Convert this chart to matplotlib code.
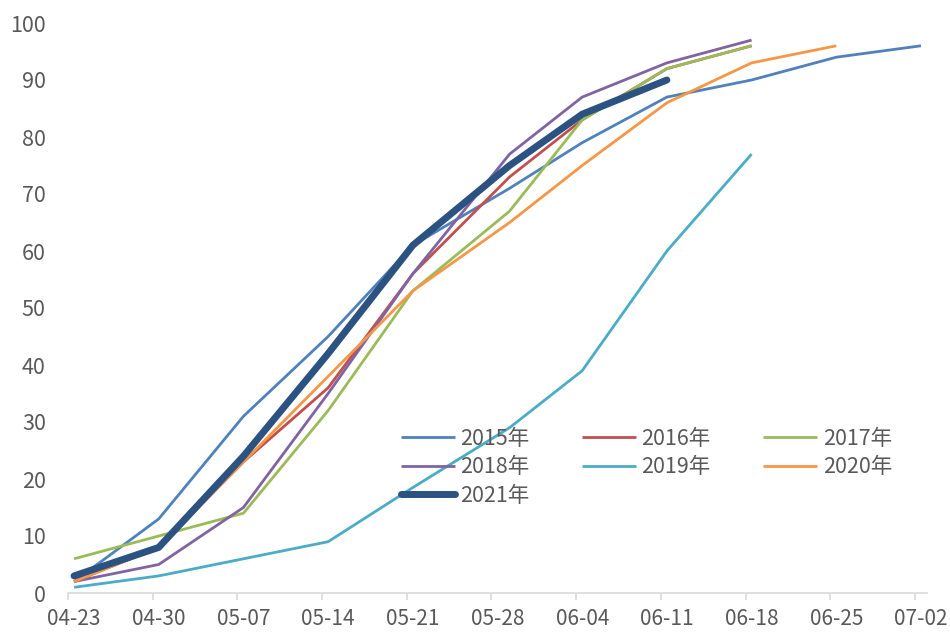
import numpy as np
import pandas as pd
import matplotlib
matplotlib.use("Agg")
import matplotlib.pyplot as plt
from matplotlib.ticker import FixedLocator, NullFormatter

plt.rcParams['font.family'] = ['Noto Sans CJK SC', 'DejaVu Sans']

# 1. data
dates = ['04-23', '04-30', '05-07', '05-14', '05-21', '05-29',
         '06-04', '06-11', '06-18', '06-25', '07-02']
tick_labels = ['04-23', '04-30', '05-07', '05-14', '05-21', '05-28',
               '06-04', '06-11', '06-18', '06-25', '07-02']

y2015 = [2, 13, 31, 45, 61, 71, 79, 87, 90, 94, 96]
y2016 = [2, 8, 23, 36, 56, 73, 83, 92, 96]
y2017 = [6, 10, 14, 32, 53, 67, 83, 92, 96]
y2018 = [2, 5, 15, 35, 56, 77, 87, 93, 97]
y2019 = [1, 3, 6, 9, 18.5, 29, 39, 60, 77]
y2020 = [2, 8, 23, 38, 53, 65, 75, 86, 93, 96]
y2021 = [3, 8, 24, 42, 61, 75, 84, 90]

names = ['2015年', '2016年', '2017年', '2018年', '2019年', '2020年', '2021年']
colors = ['#4F81BD', '#C0504D', '#9BBB59', '#8064A2', '#4BACC6', '#F79646', '#2C5282']

start = pd.Timestamp('2021-04-23')
days = np.array([(pd.Timestamp('2021-' + d) - start).days for d in dates]) + 0.5

# 2. plot
fig = plt.figure(figsize=(9.5, 6.35), dpi=100)
ax = fig.add_axes([68 / 950, 1 - 593 / 635, (927 - 68) / 950, (593 - 23) / 635])

series = [y2015, y2016, y2017, y2018, y2019, y2020, y2021]
lines = []
for name, col, vals in zip(names, colors, series):
    lw = 5 if name == '2021年' else 2
    ln, = ax.plot(days[:len(vals)], vals, color=col, linewidth=lw,
                  solid_capstyle='round' if lw == 5 else 'butt',
                  solid_joinstyle='round', label=name)
    lines.append(ln)

ax.set_xlim(0, 71)
ax.set_ylim(0, 100)

# axes look
for s in ['top', 'right', 'left']:
    ax.spines[s].set_visible(False)
ax.spines['bottom'].set_color('#D9D9D9')
ax.spines['bottom'].set_linewidth(1.2)

ax.xaxis.set_major_locator(FixedLocator(np.arange(0, 71, 7)))
ax.xaxis.set_major_formatter(NullFormatter())
ax.xaxis.set_minor_locator(FixedLocator(np.arange(0, 71, 7) + 0.5))
ax.set_xticklabels(tick_labels, minor=True)
ax.tick_params(axis='x', which='major', length=5, width=1.2, color='#D9D9D9')
ax.tick_params(axis='x', which='minor', length=0, pad=11, labelsize=15, labelcolor='#595959')

ax.set_yticks(np.arange(0, 101, 10))
ax.tick_params(axis='y', length=0, pad=16, labelsize=15.5, labelcolor='#595959')

order = [0, 3, 6, 1, 4, 2, 5]
leg = ax.legend([lines[i] for i in order], [names[i] for i in order],
                ncol=3, frameon=False, loc='upper left',
                bbox_to_anchor=(401 / 950, 1 - 428 / 635),
                bbox_transform=fig.transFigure,
                fontsize=15.5, handlelength=2.5, handletextpad=0.25,
                columnspacing=2.45, labelspacing=0.3, borderpad=0,
                borderaxespad=0)
for t in leg.get_texts():
    t.set_color('#595959')

fig.savefig('out.png', dpi=100)
